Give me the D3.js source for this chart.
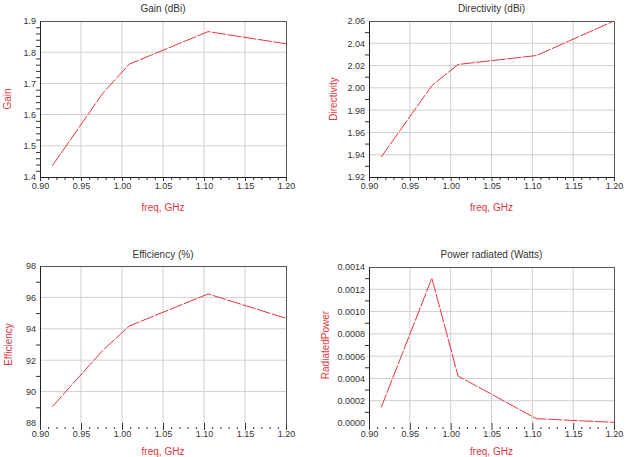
<!DOCTYPE html>
<html>
<head>
<meta charset="utf-8">
<script src="https://cdn.jsdelivr.net/npm/d3@7"></script>
<style>
  body { margin: 0; background: #fff; }
  text { font-family: "Liberation Sans", Arial, sans-serif; }
</style>
</head>
<body>
<script>
// frequency points (GHz)
const freq = [0.915, 0.977, 1.009, 1.105, 1.2];

// series values
const gain = [1.436, 1.670, 1.762, 1.866, 1.827];
const directivity = [1.938, 2.002, 2.021, 2.029, 2.060];
const efficiency = [89.04, 92.65, 94.18, 96.22, 94.67];
const power = [0.000141, 0.0013, 0.000422, 0.0000386, 0.000006];

// axis ticks
const xTicks = [0.90, 0.95, 1.00, 1.05, 1.10, 1.15, 1.20];
const gainTicks = [1.4, 1.5, 1.6, 1.7, 1.8, 1.9];
const dirTicks = [1.92, 1.94, 1.96, 1.98, 2.00, 2.02, 2.04, 2.06];
const effTicks = [88, 90, 92, 94, 96, 98];
const powTicks = [0, 0.0002, 0.0004, 0.0006, 0.0008, 0.0010, 0.0012, 0.0014];

const svg = d3.select('body')
	.append('svg')
	.attr('width', 627)
	.attr('height', 457);

const red = '#e5353b';

// one chart panel
function panel(opt) {
	const { left, right, top, bottom } = opt;
	const g = svg.append('g');

	const x = d3.scaleLinear().domain([0.9, 1.2]).range([left, right]);
	const yt = opt.yTicks;
	const y = d3.scaleLinear().domain([yt[0], yt[yt.length - 1]]).range([bottom, top]);

	// grid
	g.append('g')
		.selectAll('line.gx')
		.data(xTicks.slice(1, -1))
		.join('line')
		.attr('x1', d => x(d)).attr('x2', d => x(d))
		.attr('y1', top).attr('y2', bottom)
		.attr('stroke', '#cfcfcf');
	g.append('g')
		.selectAll('line.gy')
		.data(yt.slice(1, -1))
		.join('line')
		.attr('x1', left).attr('x2', right)
		.attr('y1', d => y(d)).attr('y2', d => y(d))
		.attr('stroke', '#cfcfcf');

	// top and right frame
	g.append('line').attr('x1', left).attr('x2', right).attr('y1', top + 0.5).attr('y2', top + 0.5)
		.attr('stroke', '#555');
	g.append('line').attr('x1', right + 0.5).attr('x2', right + 0.5).attr('y1', top).attr('y2', bottom)
		.attr('stroke', '#555');

	// x axis: minor ticks every 0.01
	const xMinor = d3.range(91, 120).map(v => v / 100).filter(v => Math.round(v * 100) % 5 !== 0);
	const xMinorAxis = d3.axisBottom(x).tickValues(xMinor).tickSize(opt.noXLine ? 2 : 3).tickFormat('');
	const gxm = g.append('g')
		.attr('transform', `translate(0,${opt.noXLine ? bottom + 4 : bottom})`)
		.call(xMinorAxis);
	gxm.select('.domain').remove();
	gxm.selectAll('line').attr('stroke', '#333');

	const xAxis = d3.axisBottom(x).tickValues(xTicks)
		.tickSize(opt.noXLine ? 7 : 4).tickPadding(opt.noXLine ? 1 : 2)
		.tickFormat(d3.format('.2f'));
	const gx = g.append('g')
		.attr('transform', `translate(0,${bottom})`)
		.call(xAxis);
	gx.selectAll('text').attr('font-size', 9).attr('fill', '#333')
		.attr('font-family', '"Liberation Sans", Arial, sans-serif');
	gx.selectAll('line').attr('stroke', '#333');
	if (opt.noXLine) gx.select('.domain').remove();
	else gx.select('.domain').attr('stroke', '#222');

	// y axis with minor ticks
	const step = yt[1] - yt[0];
	const nMinor = opt.yMinor;
	const yMinor = [];
	for (let i = 0; i < yt.length - 1; i++) {
		for (let k = 1; k <= nMinor; k++) yMinor.push(yt[i] + step * k / (nMinor + 1));
	}
	const gym = g.append('g')
		.attr('transform', `translate(${left},0)`)
		.call(d3.axisLeft(y).tickValues(yMinor).tickSize(4).tickFormat(''));
	gym.select('.domain').remove();
	gym.selectAll('line').attr('stroke', '#333');

	const gy = g.append('g')
		.attr('transform', `translate(${left},0)`)
		.call(d3.axisLeft(y).tickValues(yt).tickSize(0).tickPadding(4).tickFormat(opt.yFormat));
	gy.select('.domain').attr('stroke', '#222');
	gy.selectAll('text').attr('font-size', 9).attr('fill', '#333')
		.attr('font-family', '"Liberation Sans", Arial, sans-serif');

	// data line
	const line = d3.line().x((d, i) => x(freq[i])).y(d => y(d));
	g.append('path')
		.datum(opt.values)
		.attr('d', line)
		.attr('fill', 'none')
		.attr('stroke', red)
		.attr('stroke-width', 1)
		.attr('stroke-dasharray', '14,1.5');

	// labels
	g.append('text')
		.attr('x', (left + right) / 2).attr('y', opt.titleY)
		.attr('text-anchor', 'middle')
		.attr('font-size', 10).attr('fill', '#333')
		.text(opt.title);
	g.append('text')
		.attr('x', (left + right) / 2).attr('y', opt.xLabelY)
		.attr('text-anchor', 'middle')
		.attr('font-size', 10).attr('fill', red)
		.text('freq, GHz');
	g.append('text')
		.attr('transform', `translate(${opt.yLabelX},${(top + bottom) / 2}) rotate(-90)`)
		.attr('text-anchor', 'middle')
		.attr('font-size', 10).attr('fill', red)
		.text(opt.yLabel);
}

panel({
	left: 40, right: 286, top: 21, bottom: 177,
	yTicks: gainTicks, yMinor: 4, yFormat: d3.format('.1f'),
	values: gain, title: 'Gain (dBi)', yLabel: 'Gain',
	titleY: 12, xLabelY: 211, yLabelX: 11
});
panel({
	left: 369, right: 614, top: 21, bottom: 177,
	yTicks: dirTicks, yMinor: 1, yFormat: d3.format('.2f'),
	values: directivity, title: 'Directivity (dBi)', yLabel: 'Directivity',
	titleY: 12, xLabelY: 211, yLabelX: 337
});
panel({
	left: 40, right: 286, top: 266, bottom: 423, noXLine: true,
	yTicks: effTicks, yMinor: 1, yFormat: d3.format('d'),
	values: efficiency, title: 'Efficiency (%)', yLabel: 'Efficiency',
	titleY: 258, xLabelY: 455, yLabelX: 12
});
panel({
	left: 369, right: 614, top: 267, bottom: 423, noXLine: true,
	yTicks: powTicks, yMinor: 1, yFormat: d3.format('.4f'),
	values: power, title: 'Power radiated (Watts)', yLabel: 'RadiatedPower',
	titleY: 258, xLabelY: 455, yLabelX: 329
});
</script>
</body>
</html>
